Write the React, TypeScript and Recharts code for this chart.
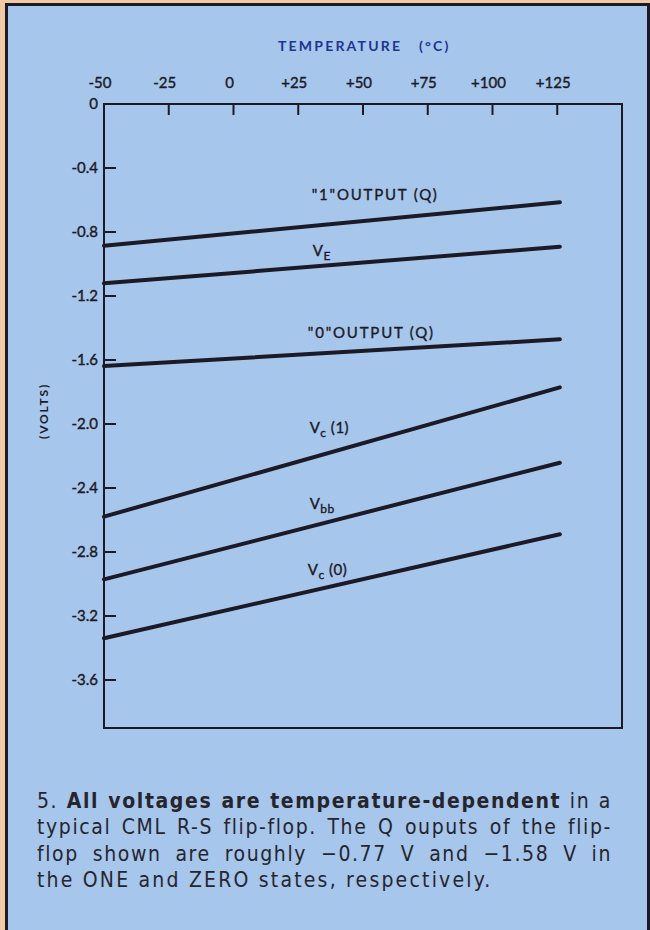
import React from "react";
import { LineChart, Line, XAxis, YAxis, ReferenceArea, ReferenceDot } from "recharts";

// temperature (°C) at the two ends of every straight line
const temps = [-50, 126];

// volts at -50 °C and at the right end
const oneOutput = [-0.886, -0.614];
const vE = [-1.121, -0.892];
const zeroOutput = [-1.638, -1.471];
const vc1 = [-2.579, -1.771];
const vbb = [-2.971, -2.242];
const vc0 = [-3.339, -2.689];

const tempTicks = [-50, -25, 0, 25, 50, 75, 100, 125];
const tempTickLabels = ["-50", "-25", "0", "+25", "+50", "+75", "+100", "+125"];
const voltTicks = [0, -0.4, -0.8, -1.2, -1.6, -2.0, -2.4, -2.8, -3.2, -3.6];
const voltTickLabels = ["0", "-0.4", "-0.8", "-1.2", "-1.6", "-2.0", "-2.4", "-2.8", "-3.2", "-3.6"];

const data = temps.map((t, i) => ({
  temp: t,
  one: oneOutput[i],
  ve: vE[i],
  zero: zeroOutput[i],
  vc1: vc1[i],
  vbb: vbb[i],
  vc0: vc0[i],
}));

const seriesKeys = ["one", "ve", "zero", "vc1", "vbb", "vc0"];

const INK = "#1c1a26";
const FONT = "Lato, 'DejaVu Sans', sans-serif";

// where each curve name sits (left end of text, baseline), in chart units
const curveNames = [
  { id: "one", t: 30.2, v: -0.6, main: "\"1\"OUTPUT (Q)" },
  { id: "ve", t: 30.6, v: -0.95, main: "V", sub: "E" },
  { id: "zero", t: 28.7, v: -1.46, main: "\"0\"OUTPUT (Q)" },
  { id: "vc1", t: 29.4, v: -2.056, main: "V", sub: "c", tail: " (1)" },
  { id: "vbb", t: 29.4, v: -2.531, main: "V", sub: "bb" },
  { id: "vc0", t: 28.7, v: -2.944, main: "V", sub: "c", tail: " (0)" },
];

function TempTick(props: any) {
  const { x, y, payload } = props;
  const i = tempTicks.indexOf(payload.value);
  return (
    <g>
      {payload.value !== -50 && (
        <line x1={x} y1={y} x2={x} y2={y + 11} stroke={INK} strokeWidth={2} />
      )}
      <text
        x={x - 4}
        y={y - 16}
        textAnchor="middle"
        fontSize={15}
        fontFamily={FONT}
        fill={INK}
        stroke={INK}
        strokeWidth={0.4}
      >
        {tempTickLabels[i]}
      </text>
    </g>
  );
}

function VoltTick(props: any) {
  const { x, y, payload } = props;
  const i = voltTicks.indexOf(payload.value);
  return (
    <g>
      {payload.value !== 0 && (
        <line x1={x} y1={y} x2={x + 12} y2={y} stroke={INK} strokeWidth={2} />
      )}
      <text
        x={x - 6}
        y={y + 5}
        textAnchor="end"
        fontSize={15}
        fontFamily={FONT}
        fill={INK}
        stroke={INK}
        strokeWidth={0.4}
      >
        {voltTickLabels[i]}
      </text>
    </g>
  );
}

function CurveName(item: any) {
  return (props: any) => {
    const { cx, cy } = props;
    return (
      <text
        x={cx}
        y={cy}
        fontSize={15}
        fontFamily={FONT}
        fill={INK}
        stroke={INK}
        strokeWidth={0.35}
        letterSpacing={item.sub ? 0.5 : 1.8}
      >
        <tspan>{item.main}</tspan>
        {item.sub && (
          <tspan fontSize={12} dy={4}>
            {item.sub}
          </tspan>
        )}
        {item.tail && <tspan dy={-4}>{item.tail}</tspan>}
      </text>
    );
  };
}

const captionLine: React.CSSProperties = {
  textAlign: "justify",
  textAlignLast: "justify",
  whiteSpace: "nowrap",
};

export default function App() {
  return (
    <div
      style={{
        position: "absolute",
        left: 0,
        top: 0,
        width: 650,
        height: 930,
        overflow: "hidden",
        background: "#f1c9a2",
      }}
    >
      <div
        style={{
          position: "absolute",
          left: 5,
          top: 3,
          width: 639,
          height: 940,
          background: "#a7c6ec",
          borderLeft: `3px solid ${INK}`,
          borderTop: `3px solid ${INK}`,
          borderRight: `3px solid ${INK}`,
        }}
      />

      <div
        style={{
          position: "absolute",
          left: 278,
          top: 37,
          fontFamily: FONT,
          fontSize: 14,
          fontWeight: 700,
          letterSpacing: 2.2,
          color: "#1d3590",
          whiteSpace: "nowrap",
        }}
      >
        TEMPERATURE&nbsp;&nbsp;&nbsp;(°C)
      </div>

      <div
        style={{
          position: "absolute",
          left: 43,
          top: 411,
          transform: "translate(-50%, -50%) rotate(-90deg)",
          fontFamily: FONT,
          fontSize: 12,
          fontWeight: 700,
          letterSpacing: 1.8,
          color: INK,
          whiteSpace: "nowrap",
        }}
      >
        (VOLTS)
      </div>

      <div style={{ position: "absolute", left: 0, top: 0 }}>
        <LineChart width={650} height={760} data={data} margin={{ top: 74, left: 44, right: 28, bottom: 32 }}>
          <XAxis
            xAxisId={0}
            dataKey="temp"
            type="number"
            orientation="top"
            domain={[-50, 150]}
            ticks={tempTicks}
            height={30}
            axisLine={false}
            tickLine={false}
            tickSize={0}
            tickMargin={0}
            interval={0}
            tick={<TempTick />}
          />
          <YAxis
            yAxisId={0}
            type="number"
            domain={[-3.9, 0]}
            ticks={voltTicks}
            width={60}
            axisLine={false}
            tickLine={false}
            tickSize={0}
            tickMargin={0}
            interval={0}
            tick={<VoltTick />}
          />
          <ReferenceArea
            x1={-50}
            x2={150}
            y1={-3.9}
            y2={0}
            fill="none"
            fillOpacity={0}
            stroke={INK}
            strokeWidth={2}
          />
          {seriesKeys.map((k) => (
            <Line
              key={k}
              dataKey={k}
              type="linear"
              stroke={INK}
              strokeWidth={4}
              strokeLinecap="round"
              dot={false}
              activeDot={false}
              isAnimationActive={false}
            />
          ))}
          {curveNames.map((c) => (
            <ReferenceDot key={c.id} x={c.t} y={c.v} r={0} shape={CurveName(c)} />
          ))}
        </LineChart>
      </div>

      <div
        style={{
          position: "absolute",
          left: 37,
          top: 788,
          width: 575,
          fontFamily: "'DejaVu Sans Condensed', 'DejaVu Sans', sans-serif",
          fontStretch: "condensed",
          fontSize: 21,
          lineHeight: "26.3px",
          letterSpacing: 1.6,
          color: "#26252e",
        }}
      >
        <div style={captionLine}>
          5. <b>All voltages are temperature-dependent</b> in a
        </div>
        <div style={captionLine}>typical CML R-S flip-flop. The Q ouputs of the flip-</div>
        <div style={captionLine}>flop shown are roughly −0.77 V and −1.58 V in</div>
        <div style={{ whiteSpace: "nowrap", letterSpacing: 2.2 }}>
          the ONE and ZERO states, respectively.
        </div>
      </div>
    </div>
  );
}
